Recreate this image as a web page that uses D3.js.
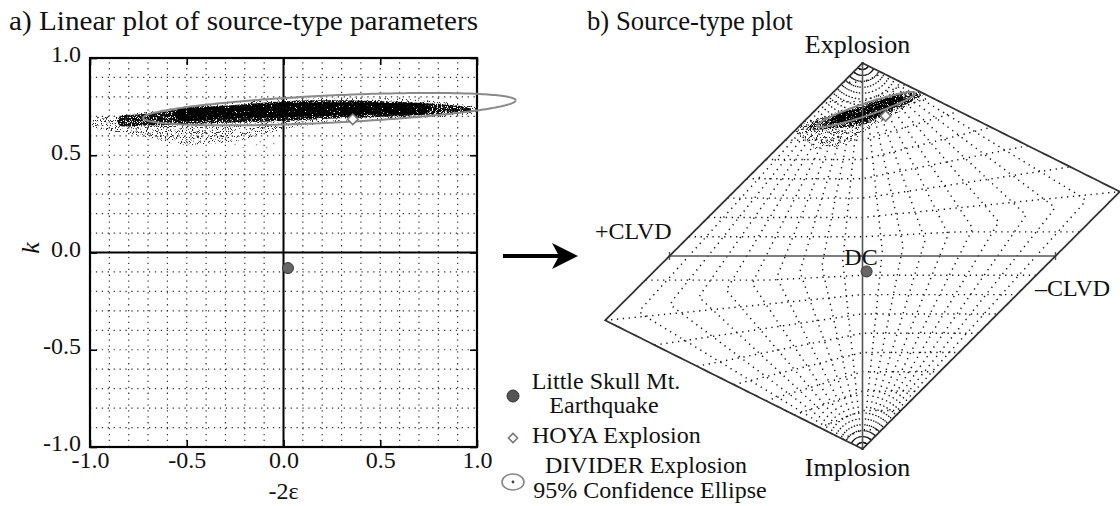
<!DOCTYPE html>
<html>
<head>
<meta charset="utf-8">
<script src="https://cdn.jsdelivr.net/npm/d3@7"></script>
<style>
  body { margin: 0; background: #fff; }
  svg { display: block; font-family: "Liberation Serif", "Times New Roman", serif; }
</style>
</head>
<body>
<svg id="chart" width="1120" height="506"></svg>
<script>
// ---- Data -----------------------------------------------------------------
// Axis ticks of the linear (-2ε, k) plot
const tTicks = [-1.0, -0.5, 0.0, 0.5, 1.0];
const kTicks = [-1.0, -0.5, 0.0, 0.5, 1.0];
// Dotted grid levels used for both parameters
const gridLevels = [-0.9, -0.8, -0.7, -0.6, -0.5, -0.4, -0.3, -0.2, -0.1,
                     0.1, 0.2, 0.3, 0.4, 0.5, 0.6, 0.7, 0.8, 0.9];

// DIVIDER solution cloud, outlined as bands in (-2ε, k)
const haloT     = [-0.985, -0.90, -0.80, -0.65, -0.55, -0.40, -0.25, -0.10, 0.10, 0.40, 0.70, 0.90, 1.00];
const haloUpper = [ 0.685,  0.700, 0.712, 0.730, 0.745, 0.760, 0.775, 0.785, 0.792, 0.795, 0.785, 0.765, 0.745];
const haloLower = [ 0.645,  0.625, 0.612, 0.580, 0.555, 0.558, 0.572, 0.610, 0.650, 0.675, 0.690, 0.705, 0.722];

const coreT     = [-0.85, -0.725, -0.466, -0.208, 0.000, 0.223, 0.482, 0.740, 0.929, 0.970];
const coreUpper = [0.695,  0.712,  0.742,  0.762, 0.778, 0.783, 0.779, 0.767, 0.750, 0.738];
const coreLower = [0.655,  0.652,  0.662,  0.670, 0.676, 0.688, 0.697, 0.708, 0.722, 0.730];

const innerT     = [-0.55, -0.30, 0.00, 0.30, 0.55, 0.75];
const innerUpper = [0.735, 0.752, 0.768, 0.772, 0.768, 0.755];
const innerLower = [0.685, 0.690, 0.696, 0.704, 0.712, 0.722];

// Isolated solutions below the main cloud
const strayT = [-0.139, -0.087, -0.208, -0.12, -0.05, -0.30, -0.42, -0.60, -0.25, -0.16];
const strayK = [ 0.554,  0.538,  0.540,  0.570, 0.560, 0.590, 0.600, 0.600, 0.555, 0.600];

// Events
const littleSkull = { T: 0.023, k: -0.080 };
const hoya        = { T: 0.358, k: 0.685 };

// 95% confidence ellipse of DIVIDER in (-2ε, k)
const ellipseLinear = { cT: 0.237, cK: 0.737, a: 0.964, b: 0.070, angleDeg: 2.7 };
// 95% confidence ellipse of DIVIDER in Hudson (u, v)
const ellipseHudson = { cU: 0.018, cV: 0.759, a: 0.268, b: 0.032, angleDeg: 18.6 };

// ---- Helpers --------------------------------------------------------------
// Hudson et al. (1989) source-type mapping (T, k) -> (u, v)
function hudson(T, k) {
  const tau = T * (1 - Math.abs(k));
  if (tau > 0 && k > 0) {
    if (tau < 4 * k) return [tau / (1 - tau / 2), k / (1 - tau / 2)];
    return [tau / (1 - 2 * k), k / (1 - 2 * k)];
  }
  if (tau < 0 && k < 0) {
    if (tau > 4 * k) return [tau / (1 + tau / 2), k / (1 + tau / 2)];
    return [tau / (1 + 2 * k), k / (1 + 2 * k)];
  }
  return [tau, k];
}
function band(ts, up, lo) {
  const pts = ts.map((t, i) => [t, up[i]]);
  for (let i = ts.length - 1; i >= 0; i--) pts.push([ts[i], lo[i]]);
  return pts;
}
function densify(pts, n) {
  const out = [];
  for (let i = 0; i < pts.length; i++) {
    const a = pts[i], b = pts[(i + 1) % pts.length];
    for (let j = 0; j < n; j++) {
      const s = j / n;
      out.push([a[0] + (b[0] - a[0]) * s, a[1] + (b[1] - a[1]) * s]);
    }
  }
  return out;
}
function ellipsePts(cx, cy, a, b, deg, n) {
  const th = deg * Math.PI / 180, out = [];
  for (let i = 0; i <= n; i++) {
    const p = 2 * Math.PI * i / n;
    out.push([cx + a * Math.cos(p) * Math.cos(th) - b * Math.sin(p) * Math.sin(th),
              cy + a * Math.cos(p) * Math.sin(th) + b * Math.sin(p) * Math.cos(th)]);
  }
  return out;
}
const fmt = d => d.toFixed(1);

// ---- SVG ------------------------------------------------------------------
const svg = d3.select("#chart");
const defs = svg.append("defs");
function grain(id, slope, offset, seed) {
  const f = defs.append("filter").attr("id", id)
    .attr("x", "-10%").attr("y", "-30%").attr("width", "120%").attr("height", "160%");
  f.append("feTurbulence").attr("type", "fractalNoise").attr("baseFrequency", 1.2)
    .attr("numOctaves", 1).attr("seed", seed).attr("result", "n");
  f.append("feColorMatrix").attr("in", "n").attr("type", "matrix")
    .attr("values", `0 0 0 0 0  0 0 0 0 0  0 0 0 0 0  ${slope} 0 0 0 ${offset}`).attr("result", "m");
  f.append("feComposite").attr("in", "SourceGraphic").attr("in2", "m").attr("operator", "in");
}
grain("grainSparse", 14, -8.0, 3);
grain("grainDense", 14, -5.4, 11);
grain("grainInner", 14, -4.3, 5);
grain("grainMid", 14, -6.3, 9);

// ---- Panel a: linear plot -------------------------------------------------
const xL = d3.scaleLinear().domain([-1, 1]).range([90, 477]);
const yL = d3.scaleLinear().domain([-1, 1]).range([447, 58]);
const lineL = d3.line().x(d => xL(d[0])).y(d => yL(d[1]));
const smoothL = d3.line().x(d => xL(d[0])).y(d => yL(d[1])).curve(d3.curveCatmullRomClosed);

const pa = svg.append("g");
// dotted grid
pa.append("g").selectAll("line").data(gridLevels).join("line")
  .attr("x1", d => xL(d)).attr("x2", d => xL(d)).attr("y1", yL(-1)).attr("y2", yL(1))
  .attr("stroke", "#333").attr("stroke-width", 1.2).attr("stroke-dasharray", "1.3,4.6");
pa.append("g").selectAll("line").data(gridLevels).join("line")
  .attr("y1", d => yL(d)).attr("y2", d => yL(d)).attr("x1", xL(-1)).attr("x2", xL(1))
  .attr("stroke", "#333").attr("stroke-width", 1.2).attr("stroke-dasharray", "1.3,4.6");

// solution cloud
pa.append("path").attr("d", smoothL(band(haloT, haloUpper, haloLower)))
  .attr("fill", "#222").attr("filter", "url(#grainSparse)");
pa.append("path").attr("d", smoothL(band(coreT, coreUpper, coreLower)))
  .attr("fill", "#111").attr("filter", "url(#grainDense)");
pa.append("path").attr("d", smoothL(band(innerT, innerUpper, innerLower)))
  .attr("fill", "#000").attr("filter", "url(#grainInner)");
pa.append("g").selectAll("circle").data(strayT).join("circle")
  .attr("cx", d => xL(d)).attr("cy", (d, i) => yL(strayK[i])).attr("r", 0.8).attr("fill", "#999");

// zero axes
pa.append("line").attr("x1", xL(0)).attr("x2", xL(0)).attr("y1", yL(-1)).attr("y2", yL(1))
  .attr("stroke", "#000").attr("stroke-width", 2);
pa.append("line").attr("y1", yL(0)).attr("y2", yL(0)).attr("x1", xL(-1)).attr("x2", xL(1))
  .attr("stroke", "#000").attr("stroke-width", 2);

// axes with inward ticks
const axB = pa.append("g").attr("transform", `translate(0,${yL(-1)})`)
  .call(d3.axisBottom(xL).tickValues(tTicks).tickFormat(fmt).tickSizeInner(-7).tickSizeOuter(0).tickPadding(9));
const axT = pa.append("g").attr("transform", `translate(0,${yL(1)})`)
  .call(d3.axisTop(xL).tickValues(tTicks).tickFormat("").tickSizeInner(-7).tickSizeOuter(0));
const axLft = pa.append("g").attr("transform", `translate(${xL(-1)},0)`)
  .call(d3.axisLeft(yL).tickValues(kTicks).tickFormat(fmt).tickSizeInner(-7).tickSizeOuter(0).tickPadding(9));
const axR = pa.append("g").attr("transform", `translate(${xL(1)},0)`)
  .call(d3.axisRight(yL).tickValues(kTicks).tickFormat("").tickSizeInner(-7).tickSizeOuter(0));
[axB, axT, axLft, axR].forEach(g => {
  g.select(".domain").remove();
  g.attr("font-family", null);
  g.selectAll(".tick line").attr("stroke", "#000").attr("stroke-width", 1.6);
  g.selectAll("text").attr("font-family", "Liberation Serif, Times New Roman, serif")
    .attr("font-size", 24).attr("fill", "#111");
});
axLft.selectAll("text").attr("dy", "0.16em");
axB.selectAll("text").attr("dy", "0.5em");

// frame
pa.append("rect").attr("x", xL(-1)).attr("y", yL(1)).attr("width", xL(1) - xL(-1)).attr("height", yL(-1) - yL(1))
  .attr("fill", "none").attr("stroke", "#000").attr("stroke-width", 2.2);

// confidence ellipse
pa.append("path").attr("d", lineL(ellipsePts(ellipseLinear.cT, ellipseLinear.cK, ellipseLinear.a, ellipseLinear.b, ellipseLinear.angleDeg, 240)))
  .attr("fill", "none").attr("stroke", "#8a8a8a").attr("stroke-width", 2);

// events
const diamond = d3.symbol().type(d3.symbolDiamond2).size(70);
pa.append("path").attr("d", diamond()).attr("transform", `translate(${xL(hoya.T)},${yL(hoya.k)})`)
  .attr("fill", "#fff").attr("stroke", "#777").attr("stroke-width", 1.6);
pa.append("circle").attr("cx", xL(littleSkull.T)).attr("cy", yL(littleSkull.k)).attr("r", 5.5)
  .attr("fill", "#666").attr("stroke", "#333").attr("stroke-width", 1);

// labels
svg.append("text").attr("x", xL(0)).attr("y", 499).attr("text-anchor", "middle")
  .attr("font-size", 24).attr("fill", "#111").text("-2ε");
svg.append("text").attr("transform", "translate(39,248) rotate(-90)").attr("text-anchor", "middle")
  .attr("font-size", 26).attr("font-style", "italic").attr("fill", "#111").text("k");
svg.append("text").attr("x", 9).attr("y", 30).attr("font-size", 27).attr("fill", "#111")
  .attr("textLength", 469).attr("lengthAdjust", "spacingAndGlyphs")
  .text("a) Linear plot of source-type parameters");

// ---- Arrow ----------------------------------------------------------------
svg.append("line").attr("x1", 503).attr("x2", 560).attr("y1", 256).attr("y2", 256)
  .attr("stroke", "#000").attr("stroke-width", 4);
svg.append("path").attr("d", "M578,256 L552,243 L559,256 L552,269 Z").attr("fill", "#000");

// ---- Panel b: Hudson source-type plot ------------------------------------
const uX = d3.scaleLinear().domain([-1, 1]).range([862.5 - 193, 862.5 + 193]);
const vY = d3.scaleLinear().domain([-1, 1]).range([256 + 193, 256 - 193]);
const lineH = d3.line().x(d => uX(d[0])).y(d => vY(d[1]));
const toH = pts => pts.map(p => hudson(p[0], p[1]));
const steps = n => d3.range(n + 1).map(i => i / n);
const dotted = sel => sel.attr("fill", "none").attr("stroke", "#111")
  .attr("stroke-width", 1.45).attr("stroke-dasharray", "1.3,4.6");

const pb = svg.append("g");
// constant-k dotted lines
gridLevels.forEach(k => {
  pb.append("path").attr("d", lineH(steps(100).map(s => hudson(-1 + 2 * s, k)))).call(dotted);
});
// constant-T dotted spokes, drawn outward from each apex
gridLevels.forEach(T => {
  pb.append("path").attr("d", lineH(steps(100).map(s => hudson(T, 1 - s)))).call(dotted);
  pb.append("path").attr("d", lineH(steps(100).map(s => hudson(T, -1 + s)))).call(dotted);
});

// solution cloud mapped into the Hudson plot
pb.append("path").attr("d", lineH(toH(densify(band(haloT, haloUpper, haloLower), 6))) + "Z")
  .attr("fill", "#222").attr("filter", "url(#grainSparse)");
pb.append("path").attr("d", lineH(toH(densify(band(coreT, coreUpper, coreLower), 6))) + "Z")
  .attr("fill", "#111").attr("filter", "url(#grainMid)");
pb.append("path").attr("d", lineH(toH(densify(band(innerT, innerUpper, innerLower), 6))) + "Z")
  .attr("fill", "#000").attr("filter", "url(#grainDense)");

// DC axes
pb.append("line").attr("x1", uX(0)).attr("x2", uX(0)).attr("y1", vY(1)).attr("y2", vY(-1))
  .attr("stroke", "#555").attr("stroke-width", 1.6);
pb.append("line").attr("x1", uX(-1)).attr("x2", uX(1)).attr("y1", vY(0)).attr("y2", vY(0))
  .attr("stroke", "#555").attr("stroke-width", 1.6);
[-1, 1].forEach(u => pb.append("line").attr("x1", uX(u)).attr("x2", uX(u))
  .attr("y1", vY(0) - 4).attr("y2", vY(0) + 4).attr("stroke", "#555").attr("stroke-width", 1.4));

// outline (T = ±1)
const rim = steps(200).map(s => hudson(1, 1 - 2 * s))
  .concat(steps(200).map(s => hudson(-1, -1 + 2 * s)));
pb.append("path").attr("d", lineH(rim) + "Z").attr("fill", "none")
  .attr("stroke", "#333").attr("stroke-width", 1.8).attr("stroke-linejoin", "miter");

// confidence ellipse
pb.append("path").attr("d", lineH(ellipsePts(ellipseHudson.cU, ellipseHudson.cV, ellipseHudson.a, ellipseHudson.b, ellipseHudson.angleDeg, 200)))
  .attr("fill", "none").attr("stroke", "#888").attr("stroke-width", 2);

// events
const hH = hudson(hoya.T, hoya.k), sH = hudson(littleSkull.T, littleSkull.k);
pb.append("path").attr("d", diamond()).attr("transform", `translate(${uX(hH[0])},${vY(hH[1])})`)
  .attr("fill", "#fff").attr("stroke", "#777").attr("stroke-width", 1.6);
pb.append("circle").attr("cx", uX(sH[0])).attr("cy", vY(sH[1])).attr("r", 5.5)
  .attr("fill", "#666").attr("stroke", "#333").attr("stroke-width", 1);

// labels
const lab = (x, y, t, anchor, size) => svg.append("text").attr("x", x).attr("y", y)
  .attr("text-anchor", anchor || "middle").attr("font-size", size || 24).attr("fill", "#111").text(t);
lab(857.5, 53, "Explosion", "middle", 26);
lab(857.5, 476, "Implosion", "middle", 26);
lab(595, 239, "+CLVD", "start");
lab(1035, 296, "\u2013CLVD", "start");
lab(861, 265, "DC");
svg.append("text").attr("x", 587).attr("y", 30).attr("font-size", 27).attr("fill", "#111")
  .attr("textLength", 206).attr("lengthAdjust", "spacingAndGlyphs").text("b) Source-type plot");

// ---- Legend ---------------------------------------------------------------
const lg = svg.append("g");
lg.append("circle").attr("cx", 513).attr("cy", 396).attr("r", 6).attr("fill", "#555").attr("stroke", "#333");
lg.append("path").attr("d", d3.symbol().type(d3.symbolDiamond2).size(55)()).attr("transform", "translate(513,438)")
  .attr("fill", "#fff").attr("stroke", "#777").attr("stroke-width", 1.5);
lg.append("ellipse").attr("cx", 513).attr("cy", 482).attr("rx", 11).attr("ry", 8)
  .attr("fill", "none").attr("stroke", "#888").attr("stroke-width", 1.6);
lg.append("circle").attr("cx", 513).attr("cy", 482).attr("r", 1.4).attr("fill", "#444");
lab(606, 389, "Little Skull Mt.");
lab(604, 413, "Earthquake");
lab(532, 443, "HOYA Explosion", "start");
lab(646, 473, "DIVIDER Explosion");
lab(650, 498, "95% Confidence Ellipse");
</script>
</body>
</html>
